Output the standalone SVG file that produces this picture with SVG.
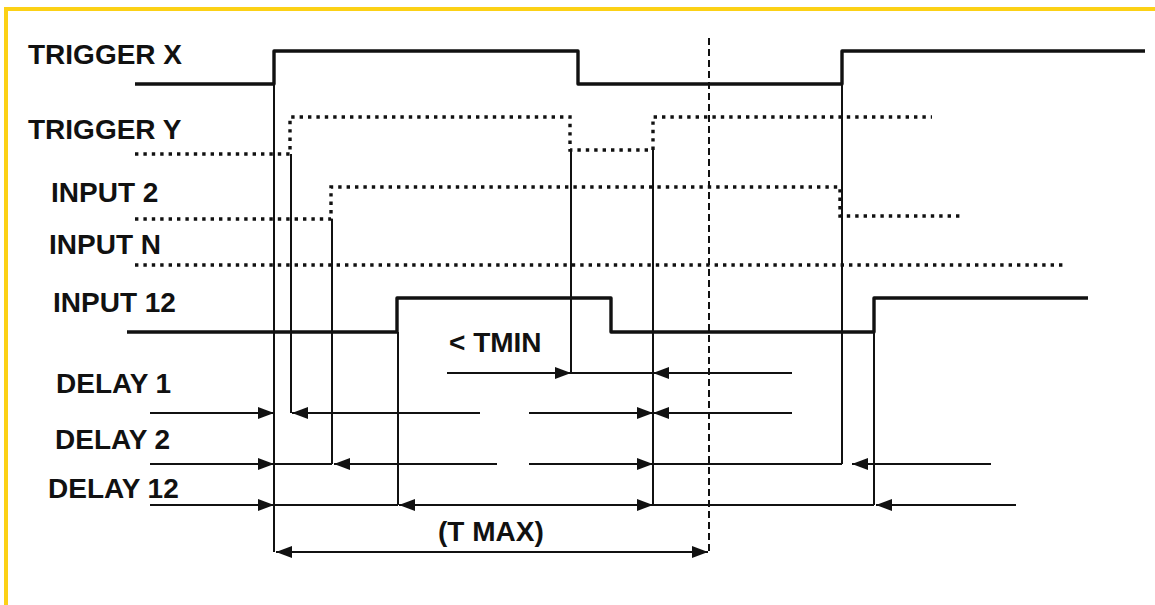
<svg xmlns="http://www.w3.org/2000/svg" width="1155" height="605" viewBox="0 0 1155 605">
<style>
.lbl{font-family:"Liberation Sans",Arial,sans-serif;font-weight:bold;font-size:28px;fill:#111}
.sig{fill:none;stroke:#111;stroke-width:3.4;stroke-linejoin:round}
.dot{fill:none;stroke:#111;stroke-width:3.4;stroke-dasharray:3.4 5}
.thin{fill:none;stroke:#111;stroke-width:2}
.arr{fill:none;stroke:#111;stroke-width:2;marker-end:url(#ah)}
.arr2{fill:none;stroke:#111;stroke-width:2;marker-end:url(#ah);marker-start:url(#ah)}
.dash{fill:none;stroke:#111;stroke-width:2;stroke-dasharray:7 4}
</style>
<defs>
<marker id="ah" viewBox="0 0 16 12" refX="16" refY="6" markerWidth="16" markerHeight="12" orient="auto-start-reverse" markerUnits="userSpaceOnUse">
<path d="M0,0 L16,6 L0,12 z" fill="#111"/>
</marker>
</defs>
<rect x="0" y="0" width="1155" height="605" fill="#fff"/>
<path d="M6,605 V9 H1155" fill="none" stroke="#FCD116" stroke-width="4"/>

<g id="trigger-x">
<text class="lbl" x="28" y="64">TRIGGER X</text>
<path class="sig" d="M135,84 H274 V51 H578 V84 H842 V51 H1145"/>
</g>
<g id="trigger-y">
<text class="lbl" x="28" y="139">TRIGGER Y</text>
<path class="dot" d="M135,154 H290 V117 H570 V150 H653 V117 H932"/>
</g>
<g id="input-2">
<text class="lbl" x="51" y="202">INPUT 2</text>
<path class="dot" d="M135,219 H331 V187 H840 V216 H960"/>
</g>
<g id="input-n">
<text class="lbl" x="49" y="254">INPUT N</text>
<path class="dot" d="M135,265 H1063"/>
</g>
<g id="input-12">
<text class="lbl" x="53" y="312">INPUT 12</text>
<path class="sig" d="M127,332 H397 V298 H611 V332 H874 V298 H1088"/>
</g>
<g id="delay-1">
<text class="lbl" x="56" y="393">DELAY 1</text>
</g>
<g id="delay-2">
<text class="lbl" x="55" y="449">DELAY 2</text>
</g>
<g id="delay-12">
<text class="lbl" x="48" y="498">DELAY 12</text>
</g>
<g id="tmin">
<text class="lbl" x="449" y="352">&lt; TMIN</text>
</g>
<g id="tmax">
<text class="lbl" x="438" y="541">(T MAX)</text>
</g>

<g id="connectors">
<line class="thin" x1="274" y1="84" x2="274" y2="552"/>
<line class="thin" x1="291" y1="154" x2="291" y2="413"/>
<line class="thin" x1="332" y1="219" x2="332" y2="464"/>
<line class="thin" x1="398" y1="332" x2="398" y2="505"/>
<line class="thin" x1="571" y1="150" x2="571" y2="373"/>
<line class="thin" x1="653" y1="150" x2="653" y2="505"/>
<line class="thin" x1="842" y1="84" x2="842" y2="464"/>
<line class="thin" x1="874" y1="332" x2="874" y2="505"/>
<line class="dash" x1="709" y1="38" x2="709" y2="552"/>

<line class="arr" x1="447" y1="373" x2="571" y2="373"/>
<line class="thin" x1="571" y1="373" x2="653" y2="373"/>
<line class="arr" x1="792" y1="373" x2="653" y2="373"/>

<line class="arr" x1="150" y1="413" x2="274" y2="413"/>
<line class="arr" x1="480" y1="413" x2="292" y2="413"/>
<line class="arr" x1="529" y1="413" x2="653" y2="413"/>
<line class="arr" x1="792" y1="413" x2="653" y2="413"/>

<line class="arr" x1="150" y1="464" x2="274" y2="464"/>
<line class="thin" x1="274" y1="464" x2="332" y2="464"/>
<line class="arr" x1="497" y1="464" x2="334" y2="464"/>
<line class="arr" x1="529" y1="464" x2="653" y2="464"/>
<line class="thin" x1="653" y1="464" x2="842" y2="464"/>
<line class="arr" x1="991" y1="464" x2="852" y2="464"/>

<line class="arr" x1="150" y1="505" x2="274" y2="505"/>
<line class="thin" x1="274" y1="505" x2="398" y2="505"/>
<line class="arr2" x1="399" y1="505" x2="653" y2="505"/>
<line class="thin" x1="653" y1="505" x2="874" y2="505"/>
<line class="arr" x1="1016" y1="505" x2="876" y2="505"/>

<line class="arr2" x1="276" y1="552" x2="708" y2="552"/>
</g>
</svg>
